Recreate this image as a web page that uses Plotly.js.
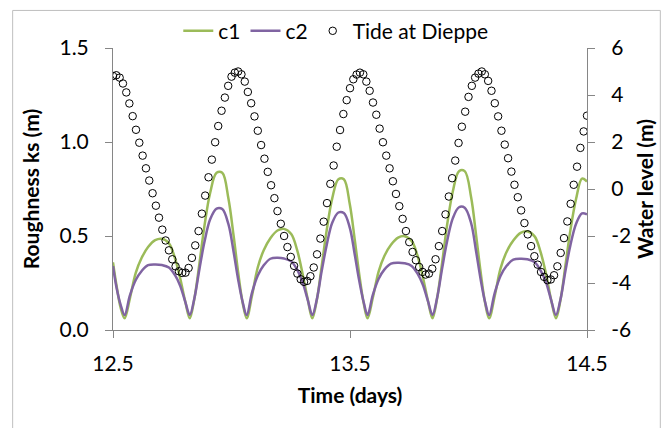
<!DOCTYPE html>
<html>
<head>
<meta charset="utf-8">
<script src="https://cdn.plot.ly/plotly-3.0.1.min.js"></script>
<style>html,body{margin:0;padding:0;background:#fff}#chart{width:668px;height:428px}</style>
</head>
<body>
<div id="chart"></div>
<script>
'use strict';

// Tide at Dieppe, every 20 min (days)
const tideTime = [
  12.500,12.514,12.528,12.542,12.556,12.569,12.583,12.597,12.611,12.625,12.639,12.653,12.667,12.681,12.694,12.708,12.722,12.736,
  12.750,12.764,12.778,12.792,12.806,12.819,12.833,12.847,12.861,12.875,12.889,12.903,12.917,12.931,12.944,12.958,12.972,12.986,
  13.000,13.014,13.028,13.042,13.056,13.069,13.083,13.097,13.111,13.125,13.139,13.153,13.167,13.181,13.194,13.208,13.222,13.236,
  13.250,13.264,13.278,13.292,13.306,13.319,13.333,13.347,13.361,13.375,13.389,13.403,13.417,13.431,13.444,13.458,13.472,13.486,
  13.500,13.514,13.528,13.542,13.556,13.569,13.583,13.597,13.611,13.625,13.639,13.653,13.667,13.681,13.694,13.708,13.722,13.736,
  13.750,13.764,13.778,13.792,13.806,13.819,13.833,13.847,13.861,13.875,13.889,13.903,13.917,13.931,13.944,13.958,13.972,13.986,
  14.000,14.014,14.028,14.042,14.056,14.069,14.083,14.097,14.111,14.125,14.139,14.153,14.167,14.181,14.194,14.208,14.222,14.236,
  14.250,14.264,14.278,14.292,14.306,14.319,14.333,14.347,14.361,14.375,14.389,14.403,14.417,14.431,14.444,14.458,14.472,14.486,
  14.500
];
const tideLevel = [
  4.81,4.84,4.74,4.49,4.11,3.64,3.10,2.52,1.97,1.42,0.88,0.36,-0.18,-0.71,-1.22,-1.73,-2.19,-2.61,
  -2.99,-3.29,-3.50,-3.57,-3.56,-3.36,-2.93,-2.40,-1.79,-1.05,-0.28,0.50,1.25,1.99,2.68,3.33,3.89,4.39,
  4.78,4.95,5.00,4.88,4.57,4.13,3.65,3.09,2.48,1.87,1.29,0.73,0.16,-0.39,-0.94,-1.48,-2.00,-2.47,
  -2.89,-3.27,-3.60,-3.84,-3.95,-3.91,-3.71,-3.34,-2.78,-2.11,-1.39,-0.60,0.22,1.00,1.80,2.51,3.19,3.78,
  4.29,4.67,4.87,4.95,4.88,4.57,4.18,3.68,3.16,2.57,1.99,1.42,0.88,0.33,-0.21,-0.73,-1.27,-1.79,
  -2.26,-2.68,-3.03,-3.32,-3.53,-3.64,-3.60,-3.39,-2.99,-2.43,-1.79,-1.08,-0.32,0.46,1.21,1.96,2.65,3.29,
  3.92,4.39,4.74,4.91,5.00,4.88,4.60,4.18,3.65,3.09,2.48,1.89,1.31,0.74,0.18,-0.35,-0.91,-1.45,
  -1.93,-2.43,-2.86,-3.22,-3.53,-3.74,-3.88,-3.85,-3.67,-3.29,-2.72,-2.09,-1.38,-0.63,0.18,0.95,1.75,2.45,
  3.12
];

// Roughness ks (m) for c1 and c2
const ksTime = [
  12.500,12.515,12.532,12.549,12.571,12.596,12.621,12.648,12.678,12.706,12.736,12.761,12.783,12.805,
  12.824,12.843,12.865,12.886,12.910,12.937,12.961,12.987,13.009,13.028,13.047,
  13.064,13.086,13.111,13.136,13.164,13.194,13.222,13.252,13.277,13.299,13.322,
  13.341,13.360,13.381,13.402,13.425,13.451,13.474,13.499,13.520,13.539,13.558,
  13.574,13.596,13.621,13.645,13.673,13.703,13.730,13.760,13.785,13.807,13.829,
  13.848,13.867,13.889,13.910,13.934,13.960,13.984,14.011,14.032,14.051,14.070,
  14.087,14.110,14.135,14.160,14.189,14.220,14.248,14.279,14.304,14.327,14.349,
  14.369,14.388,14.409,14.430,14.454,14.479,14.500
];
const c1 = [
  0.360,0.235,0.120,0.062,0.167,0.304,0.384,0.441,0.478,0.485,0.461,0.384,0.278,0.151,
  0.062,0.164,0.357,0.555,0.730,0.836,0.836,0.699,0.500,0.307,0.145,
  0.062,0.180,0.334,0.424,0.488,0.529,0.538,0.510,0.425,0.305,0.162,
  0.062,0.160,0.344,0.533,0.700,0.802,0.802,0.670,0.480,0.296,0.141,
  0.062,0.170,0.312,0.394,0.453,0.491,0.499,0.474,0.395,0.285,0.154,
  0.062,0.165,0.360,0.561,0.738,0.845,0.845,0.706,0.505,0.310,0.145,
  0.062,0.177,0.326,0.414,0.476,0.517,0.525,0.498,0.415,0.299,0.159,
  0.062,0.159,0.343,0.531,0.698,0.805,0.790
];
const c2 = [
  0.340,0.225,0.135,0.080,0.183,0.266,0.314,0.345,0.349,0.346,0.332,0.293,0.237,0.150,
  0.080,0.166,0.326,0.469,0.589,0.646,0.643,0.563,0.415,0.269,0.149,
  0.080,0.196,0.290,0.344,0.379,0.384,0.380,0.365,0.321,0.257,0.159,
  0.080,0.163,0.317,0.454,0.570,0.625,0.622,0.545,0.402,0.262,0.146,
  0.080,0.186,0.273,0.321,0.353,0.358,0.355,0.341,0.300,0.242,0.153,
  0.080,0.167,0.329,0.474,0.595,0.653,0.650,0.569,0.419,0.271,0.149,
  0.080,0.194,0.287,0.340,0.374,0.379,0.376,0.361,0.317,0.254,0.158,
  0.080,0.162,0.314,0.451,0.565,0.620,0.615
];

const xTicks = [12.5, 13.5, 14.5];
const xTickText = ['12.5', '13.5', '14.5'];
const ksTicks = [0, 0.5, 1, 1.5];
const ksTickText = ['0.0', '0.5', '1.0', '1.5'];
const wlTicks = [-6, -4, -2, 0, 2, 4, 6];
const wlTickText = ['-6', '-4', '-2', '0', '2', '4', '6'];

const FONT = 'Lato, Carlito, Calibri, sans-serif';
const AX = '#868686';

const traces = [
  { x: ksTime, y: c1, name: 'c1', type: 'scatter', mode: 'lines', line: { color: '#9bbb59', width: 2.5, shape: 'spline', smoothing: 1 } },
  { x: ksTime, y: c2, name: 'c2', type: 'scatter', mode: 'lines', line: { color: '#8064a2', width: 2.5, shape: 'spline', smoothing: 1 } },
  { x: tideTime, y: tideLevel, name: 'Tide at Dieppe', type: 'scatter', mode: 'markers', yaxis: 'y2',
    marker: { symbol: 'circle-open', size: 7.5, color: '#000', line: { width: 1 } } }
];

const layout = {
  width: 668, height: 428,
  margin: { l: 113, r: 81.3, t: 47, b: 98 },
  paper_bgcolor: '#fff', plot_bgcolor: '#fff',
  font: { family: FONT, size: 21, color: '#000' },
  showlegend: true,
  legend: { orientation: 'h', x: 0.47, xanchor: 'center', y: 1.056, yanchor: 'middle',
    font: { family: FONT, size: 21 }, itemwidth: 30, tracegroupgap: 0, bgcolor: 'rgba(0,0,0,0)' },
  xaxis: { range: [12.5, 14.5], tickvals: xTicks, ticktext: xTickText, ticks: 'outside', ticklen: 7, tickcolor: AX,
    showline: true, linecolor: AX, showgrid: false, zeroline: false, ticklabelstandoff: 8,
    title: { text: '<b>Time (days)</b>', standoff: 14, font: { family: FONT, size: 21 } } },
  yaxis: { range: [0, 1.5], tickvals: ksTicks, ticktext: ksTickText, ticks: 'outside', ticklen: 7, tickcolor: AX,
    showline: true, linecolor: AX, showgrid: false, zeroline: false, ticklabelstandoff: 12,
    title: { text: '<b>Roughness ks (m)</b>', standoff: 14, font: { family: FONT, size: 21 } } },
  yaxis2: { range: [-6, 6], tickvals: wlTicks, ticktext: wlTickText, overlaying: 'y', side: 'right', ticks: 'outside', ticklen: 7,
    tickcolor: AX, showline: true, linecolor: AX, showgrid: false, zeroline: false, ticklabelstandoff: 12,
    title: { text: '<b>Water level (m)</b>', standoff: 8, font: { family: FONT, size: 21 } } },
  shapes: [
    { type: 'rect', xref: 'paper', yref: 'paper', x0: -0.2117, x1: 1.1547, y0: -0.36, y1: 1.1332,
      line: { color: '#bfbfbf', width: 1 }, layer: 'below' }
  ]
};

Plotly.newPlot('chart', traces, layout, { staticPlot: true, displayModeBar: false });
</script>
</body>
</html>
